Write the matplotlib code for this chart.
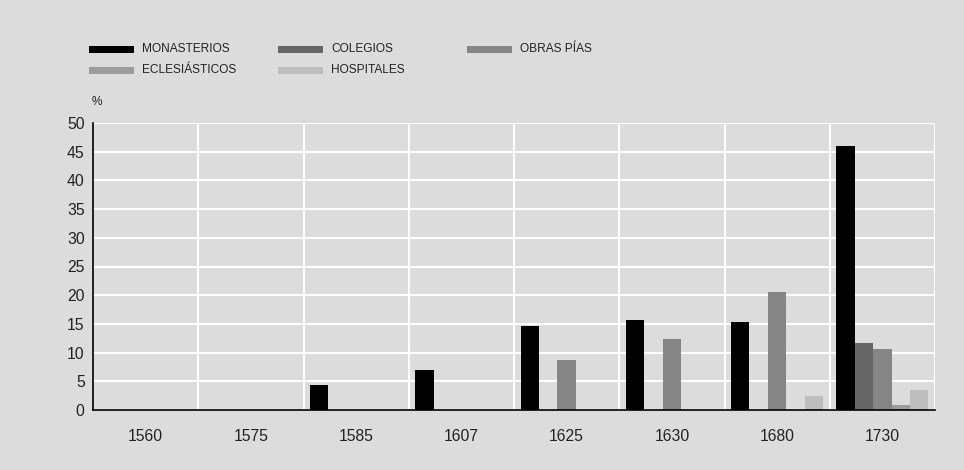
import numpy as np
import matplotlib
matplotlib.use("Agg")
import matplotlib.pyplot as plt
from matplotlib.patches import Rectangle
from matplotlib import font_manager

years = ["1560", "1575", "1585", "1607", "1625", "1630", "1680", "1730"]
series_names = ["MONASTERIOS", "COLEGIOS", "OBRAS PÍAS", "ECLESIÁSTICOS", "HOSPITALES"]
monasterios = [0, 0, 4.3, 7.0, 14.7, 15.6, 15.3, 46.0]
colegios = [0, 0, 0, 0, 0, 0, 0, 11.7]
obras_pias = [0, 0, 0, 0, 8.7, 12.4, 20.5, 10.7]
eclesiasticos = [0, 0, 0, 0, 0, 0, 0, 0.9]
hospitales = [0, 0, 0, 0, 0, 0, 2.5, 3.5]
colors = ["#000000", "#666666", "#858585", "#9c9c9c", "#bebebe"]
yticks = [0, 5, 10, 15, 20, 25, 30, 35, 40, 45, 50]

bg = "#dcdcdc"
plt.rcParams["font.family"] = ["Liberation Sans", "DejaVu Sans"]

# narrow face for the legend if it is there
names = {f.name for f in font_manager.fontManager.ttflist}
if "Liberation Sans Narrow" in names:
    leg_font, leg_size = ["Liberation Sans Narrow", "Liberation Sans"], 9.6
else:
    leg_font, leg_size = ["Liberation Sans", "DejaVu Sans"], 8.6

W, H = 964, 470
fig = plt.figure(figsize=(W / 100, H / 100), dpi=100, facecolor=bg)
ax = fig.add_axes([93 / W, 1 - 410 / H, (935 - 93) / W, (410 - 123) / H])
ax.set_facecolor(bg)

x = np.arange(len(years))
w = 0.175
all_series = [monasterios, colegios, obras_pias, eclesiasticos, hospitales]
for j, vals in enumerate(all_series):
    ax.bar(x + (j - 2) * w, vals, width=w, color=colors[j], zorder=3, linewidth=0)

ax.set_xlim(-0.5, len(years) - 0.5)
ax.set_ylim(0, 50)
ax.set_yticks(yticks)
ax.set_xticks(x)
ax.set_xticklabels(years)
ax.set_xticks(np.arange(0.5, len(years), 1), minor=True)
ax.tick_params(axis="both", which="both", length=0, labelsize=11.3, colors="#222222")
ax.tick_params(axis="x", pad=14)
ax.tick_params(axis="y", pad=6)
ax.grid(axis="y", which="major", color="white", linewidth=1.5, zorder=1)
ax.grid(axis="x", which="minor", color="white", linewidth=1.5, zorder=1)
ax.grid(axis="x", which="major", visible=False)
ax.set_axisbelow(True)
for s in ["top", "right"]:
    ax.spines[s].set_visible(False)
for s in ["left", "bottom"]:
    ax.spines[s].set_color("black")
    ax.spines[s].set_linewidth(1.2)
    ax.spines[s].set_zorder(4)

# legend, drawn by hand to match the layout
leg_pos = [(89, 49), (278, 49), (467, 49), (89, 70), (278, 70)]
for (px, py), name, c in zip(leg_pos, series_names, colors):
    fig.add_artist(Rectangle((px / W, 1 - (py + 3.5) / H), 45 / W, 7 / H,
                             transform=fig.transFigure, color=c, linewidth=0))
    fig.text((px + 53) / W, 1 - py / H, name, fontsize=leg_size, va="center",
             ha="left", color="#222222", family=leg_font)

fig.text(92 / W, 1 - 102 / H, "%", fontsize=leg_size, va="center", ha="left",
         color="#222222", family=leg_font)

fig.savefig("out.png", dpi=100, facecolor=bg)
